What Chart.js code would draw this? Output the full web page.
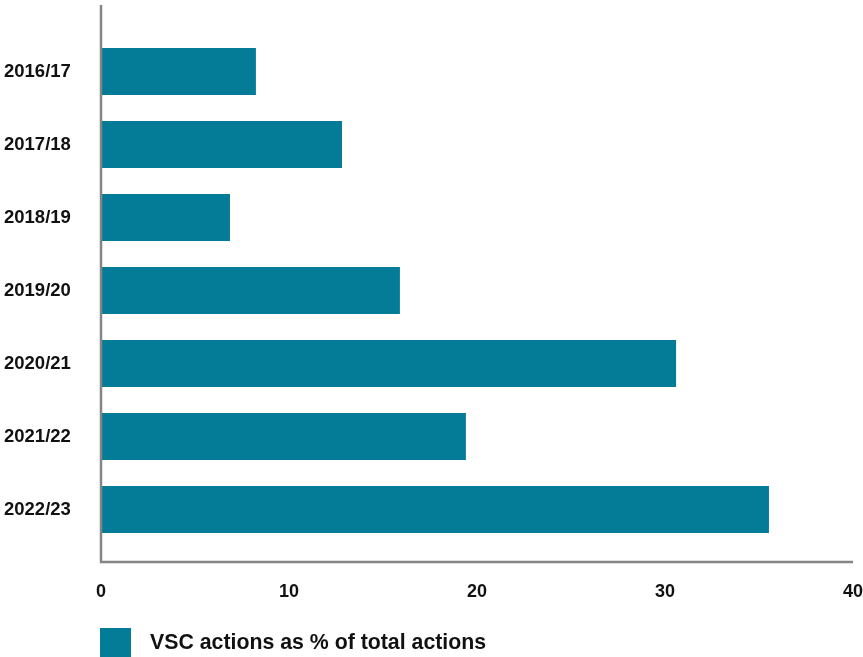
<!DOCTYPE html>
<html>
<head>
<meta charset="utf-8">
<title>VSC actions as % of total actions</title>
<script src="https://cdn.jsdelivr.net/npm/chart.js@4/dist/chart.umd.min.js"></script>
<style>
  html, body { margin: 0; padding: 0; background: #ffffff; }
  #wrap { position: relative; width: 863px; height: 657px; }
</style>
</head>
<body>
<div id="wrap"><canvas id="chart" width="863" height="657"></canvas></div>
<script>
// Financial years shown on the category axis
const years = ['2016/17', '2017/18', '2018/19', '2019/20', '2020/21', '2021/22', '2022/23'];
// VSC actions as a share of all actions (%)
const vscShare = [8.24, 12.82, 6.86, 15.9, 30.59, 19.41, 35.53];
// Value axis ticks
const xTicks = [0, 10, 20, 30, 40];
const seriesLabel = 'VSC actions as % of total actions';

const TEAL = '#047b97';
const AXIS = '#858585';
const FONT = '"Liberation Sans", Arial, Helvetica, sans-serif';

// Axis lines that run a little past the plotted band, plus the legend row
const framePlugin = {
  id: 'frame',
  afterDraw(chart) {
    const { ctx, chartArea, scales } = chart;
    const x0 = scales.x.getPixelForValue(xTicks[0]);
    const xEnd = scales.x.getPixelForValue(xTicks[xTicks.length - 1]);
    const top = chartArea.top - 30;
    const base = chartArea.bottom + 16;
    ctx.save();
    ctx.strokeStyle = AXIS;
    ctx.lineWidth = 2.5;
    ctx.beginPath();
    ctx.moveTo(x0, top);
    ctx.lineTo(x0, base);
    ctx.lineTo(xEnd, base);
    ctx.stroke();

    // legend
    const ds = chart.data.datasets[0];
    const ly = chartArea.bottom + 82;
    ctx.fillStyle = ds.backgroundColor;
    ctx.fillRect(x0 - 1, ly, 31, 31);
    ctx.fillStyle = '#111111';
    ctx.font = 'bold 21.3px ' + FONT;
    ctx.textBaseline = 'alphabetic';
    ctx.textAlign = 'left';
    ctx.fillText(ds.label, x0 + 49, ly + 21);
    ctx.restore();
  }
};

new Chart(document.getElementById('chart'), {
  type: 'bar',
  data: {
    labels: years,
    datasets: [{
      label: seriesLabel,
      data: vscShare,
      backgroundColor: TEAL,
      borderWidth: 0,
      barPercentage: 1,
      categoryPercentage: 0.644
    }]
  },
  options: {
    indexAxis: 'y',
    responsive: false,
    animation: false,
    layout: { padding: { left: 4, right: 10, top: 35, bottom: 51 } },
    plugins: {
      legend: { display: false },
      tooltip: { enabled: false }
    },
    scales: {
      x: {
        type: 'linear',
        min: xTicks[0],
        max: xTicks[xTicks.length - 1],
        afterBuildTicks(scale) { scale.ticks = xTicks.map(v => ({ value: v })); },
        afterFit(scale) { scale.height = 60; },
        grid: { display: false, drawTicks: true, tickLength: 35 },
        border: { display: false },
        ticks: {
          padding: 0,
          color: '#111111',
          font: { family: FONT, size: 18, weight: 'bold' }
        }
      },
      y: {
        afterFit(scale) { scale.width = 97; },
        grid: { display: false, drawTicks: false },
        border: { display: false },
        ticks: {
          crossAlign: 'far',
          color: '#111111',
          font: { family: FONT, size: 18.5, weight: 'bold' }
        }
      }
    }
  },
  plugins: [framePlugin]
});
</script>
</body>
</html>
